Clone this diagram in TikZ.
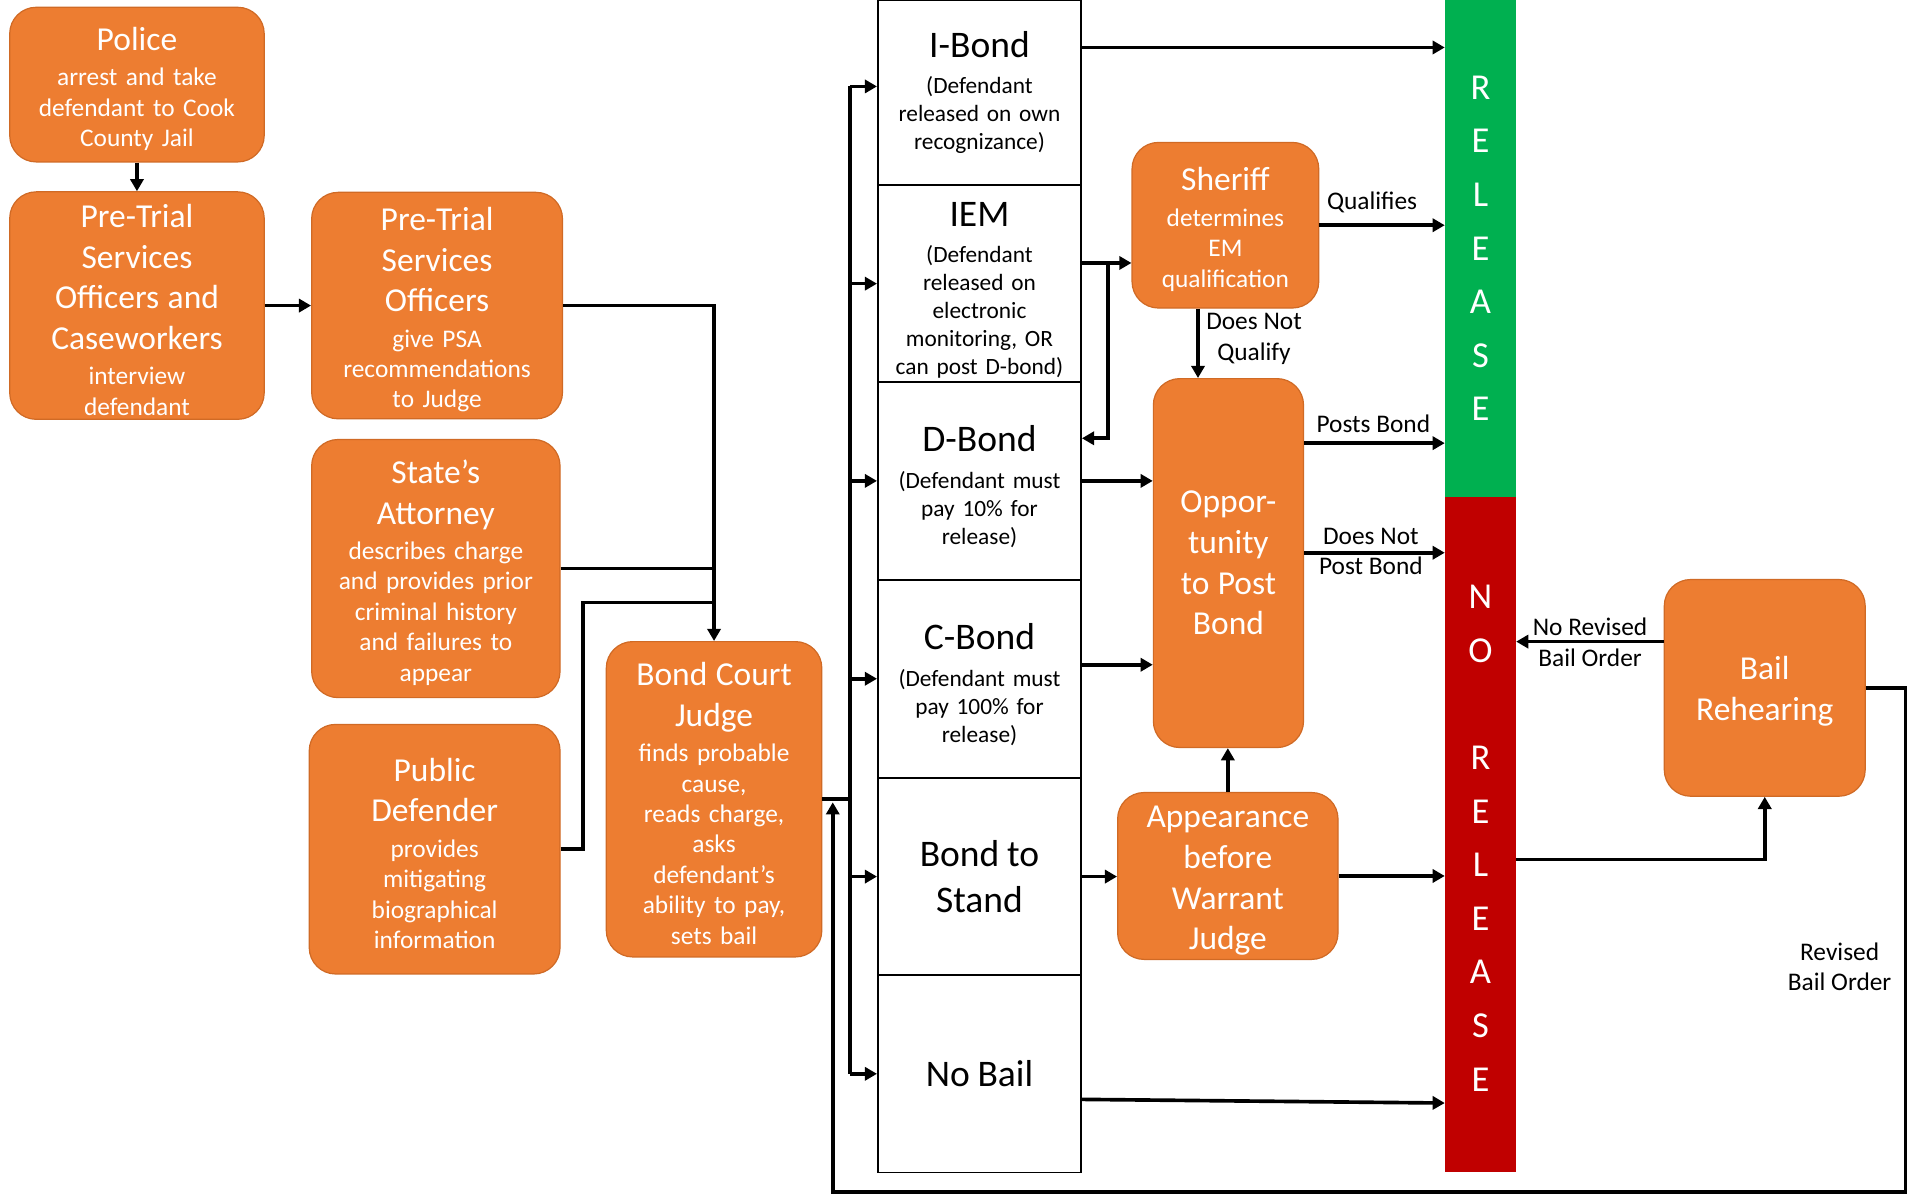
\documentclass[tikz,border=0pt]{standalone}
\usepackage{fontspec}
\setmainfont{Carlito}
\usetikzlibrary{arrows.meta,calc}
\definecolor{obox}{HTML}{ED7D31}
\definecolor{oline}{HTML}{D06A25}
\definecolor{rgreen}{HTML}{00B050}
\definecolor{rred}{HTML}{C00000}
\newcommand{\bxT}{\fontsize{16.5pt}{20pt}\selectfont}
\newcommand{\bxS}{\fontsize{12.5pt}{15pt}\selectfont}
\newcommand{\clT}{\fontsize{18.5pt}{22.8pt}\selectfont}
\newcommand{\clS}{\fontsize{11.5pt}{13.8pt}\selectfont}
\newcommand{\lblf}{\fontsize{12.5pt}{15pt}\selectfont}
\newcommand{\barf}{\fontsize{18pt}{26.4pt}\selectfont}
\newcommand{\topstrut}[1]{\rule{0pt}{#1}}
\newcommand{\twopart}[2]{{\bxT\topstrut{15.6pt}#1\par}\vspace{2.4pt}{\bxS #2\par}}
\newcommand{\cellpart}[2]{{\clT\topstrut{18.5pt}#1\par}\vspace{4.2pt}{\clS #2\par}}
\tikzset{
  obx/.style={rectangle, rounded corners=13pt, fill=obox, draw=oline, line width=0.6pt,
    text=white, align=center, inner xsep=3pt, inner ysep=2pt, font=\bxS},
  cellbox/.style={rectangle, draw=black, line width=0.8pt, fill=white, align=center,
    inner xsep=2pt, inner ysep=0pt, minimum width=100.2pt, text width=96pt, font=\clS},
  barbox/.style={rectangle, inner xsep=2.4pt, inner ysep=0pt, minimum width=34.8pt,
    text width=30pt, text=white, align=center, font=\barf},
  lbl/.style={align=center, inner sep=0pt, font=\lblf, text=black},
  ln/.style={line width=1.8pt},
  arr/.style={line width=1.8pt, -{Triangle[length=6pt,width=6.5pt]}}
}
\begin{document}
\begin{tikzpicture}[x=0.6pt,y=-0.6pt]
\useasboundingbox (0,0) rectangle (1568,982);

% orange boxes
\node[obx, minimum width=125.4pt, minimum height=76.2pt, text width=119pt] (police) at (112.5,69.5)
  {\twopart{Police}{arrest and take\\defendant to Cook\\County Jail}};
\node[obx, minimum width=125.4pt, minimum height=111.6pt, text width=119pt] (ptsc) at (112.5,251)
  {\twopart{Pre-Trial\\Services\\Officers and\\Caseworkers}{interview\\defendant}};
\node[obx, minimum width=123.6pt, minimum height=111.6pt, text width=117pt] (ptso) at (359,251)
  {\twopart{Pre-Trial\\Services\\Officers}{give PSA\\recommendations\\to Judge}};
\node[obx, minimum width=122.4pt, minimum height=127.2pt, text width=116pt] (state) at (358,467)
  {\twopart{State’s\\Attorney}{describes charge\\and provides prior\\criminal history\\and failures to\\appear}};
\node[obx, minimum width=123.6pt, minimum height=123pt, text width=117pt] (pubdef) at (357,697.5)
  {\twopart{Public\\Defender}{provides\\mitigating\\biographical\\information}};
\node[obx, minimum width=106.2pt, minimum height=155.4pt, text width=100pt] (judge) at (586.5,656.5)
  {\twopart{Bond Court\\Judge}{finds probable\\cause,\\reads charge,\\asks\\defendant’s\\ability to pay,\\sets bail}};
\node[obx, minimum width=91.8pt, minimum height=81.6pt, text width=86pt] (sheriff) at (1006.5,185)
  {\twopart{Sheriff}{determines\\EM\\qualification}};
\node[obx, minimum width=73.2pt, minimum height=181.8pt, text width=68pt] (opp) at (1009,462.5)
  {{\bxT Oppor-\\tunity\\to Post\\Bond\par}};
\node[obx, minimum width=108.6pt, minimum height=79.8pt, text width=102pt] (appear) at (1008.5,719.5)
  {{\bxT\topstrut{15.4pt}Appearance\\before\\Warrant\\Judge\par}};
\node[obx, minimum width=99pt, minimum height=106.8pt, text width=93pt] (rehear) at (1449.5,565)
  {{\bxT\topstrut{15pt}Bail\\Rehearing\par}};

% bond column
\node[cellbox, minimum height=91.2pt] (ibond) at (804.5,76)
  {{\clT I-Bond\par}\vspace{4.2pt}{\clS (Defendant\\released on own\\recognizance)\par}};
\node[cellbox, minimum height=97.2pt] (iem) at (804.5,233)
  {\cellpart{IEM}{(Defendant\\released on\\electronic\\monitoring, OR\\can post D-bond)}};
\node[cellbox, minimum height=97.2pt] (dbond) at (804.5,395)
  {\cellpart{D-Bond}{(Defendant must\\pay 10\% for\\release)}};
\node[cellbox, minimum height=97.2pt] (cbond) at (804.5,557.5)
  {\cellpart{C-Bond}{(Defendant must\\pay 100\% for\\release)}};
\node[cellbox, minimum height=97.2pt] (bts) at (804.5,720)
  {{\clT Bond to\\Stand\par}};
\node[cellbox, minimum height=97.2pt] (nobail) at (804.5,882)
  {{\clT No Bail\par}};

% release bars
\node[barbox, fill=rgreen, minimum height=244.8pt] (release) at (1216,204)
  {R\\E\\L\\E\\A\\S\\E};
\node[barbox, fill=rred, minimum height=333pt] (norelease) at (1216,685.5)
  {\topstrut{15.2pt}N\\O\\\mbox{}\\R\\E\\L\\E\\A\\S\\E};

% labels
\node[lbl] (lqual) at (1127,166) {Qualifies};
\node[lbl] (ldnq) at (1030,278.5) {Does Not\\Qualify};
\node[lbl] (lposts) at (1128,348) {Posts Bond};
\node[lbl] (ldnp) at (1126,441) {Does Not};
\node[lbl] (lpb) at (1126,465) {Post Bond};
\node[lbl] (lnorev) at (1306,527.5) {No Revised\\Bail Order};
\node[lbl] (lrev) at (1511,794) {Revised\\Bail Order};

% helper coordinates
\coordinate (busx) at (698,0);
\coordinate (loopx) at (684,0);
\coordinate (joinx) at (479,0);
\coordinate (pdy) at (0,495);
\coordinate (branchx) at (910,0);
\coordinate (shx) at (984,0);
\coordinate (rightx) at (1565,0);
\coordinate (boty) at (0,979);
\coordinate (iby) at (0,39);
\coordinate (ibin) at (0,71);
\coordinate (iemy) at (0,216);
\coordinate (dby) at (0,360);
\coordinate (cby) at (0,546);
\coordinate (opy1) at (0,364);
\coordinate (opy2) at (0,454);
\coordinate (nby1) at (0,903);
\coordinate (nby2) at (0,906);
\coordinate (nry) at (0,706);
\coordinate (rry) at (0,527);

% left part connectors
\draw[arr] (police) -- (ptsc);
\draw[arr] (ptsc) -- (ptso);
\draw[arr] (ptso.east) -| (judge.north);
\draw[ln] (state.east) -- (state.east -| judge.north);
\draw[ln] (pubdef.east) -| (joinx |- pdy) -- (pdy -| judge.north);

% bus
\draw[ln] (judge.east) -- (busx |- judge.east);
\draw[ln] (busx |- ibin) -- (busx |- nobail.west);
\draw[arr] (busx |- ibin) -- (ibond.west |- ibin);
\foreach \c in {iem,dbond,cbond,bts,nobail}
  \draw[arr] (busx |- \c.west) -- (\c.west);

% loop back
\draw[arr, shorten >=1.5pt] (rehear.east) -| (rightx |- boty) -| (loopx |- judge.east);

% right part connectors
\draw[arr] (ibond.east |- iby) -- (release.west |- iby);
\draw[arr] (iem.east |- iemy) -- (sheriff.west |- iemy);
\draw[arr] (branchx |- iemy) |- (dbond.east |- dby);
\draw[arr] (sheriff.east) -- (sheriff.east -| release.west);
\draw[arr] (shx |- sheriff.south) -- (shx |- opp.north);
\draw[arr] (dbond.east) -- (dbond.east -| opp.west);
\draw[arr] (cbond.east |- cby) -- (opp.west |- cby);
\draw[arr] (opp.east |- opy1) -- (release.west |- opy1);
\draw[arr] (opp.east |- opy2) -- (norelease.west |- opy2);
\draw[arr] (bts.east) -- (bts.east -| appear.west);
\draw[arr] (appear.north) -- (appear.north |- opp.south);
\draw[arr] (appear.east) -- (appear.east -| norelease.west);
\draw[arr] (nobail.east |- nby1) -- (norelease.west |- nby2);
\draw[arr] (norelease.east |- nry) -| (rehear.south);
\draw[arr] (rehear.west |- rry) -- (norelease.east |- rry);
\end{tikzpicture}
\end{document}
